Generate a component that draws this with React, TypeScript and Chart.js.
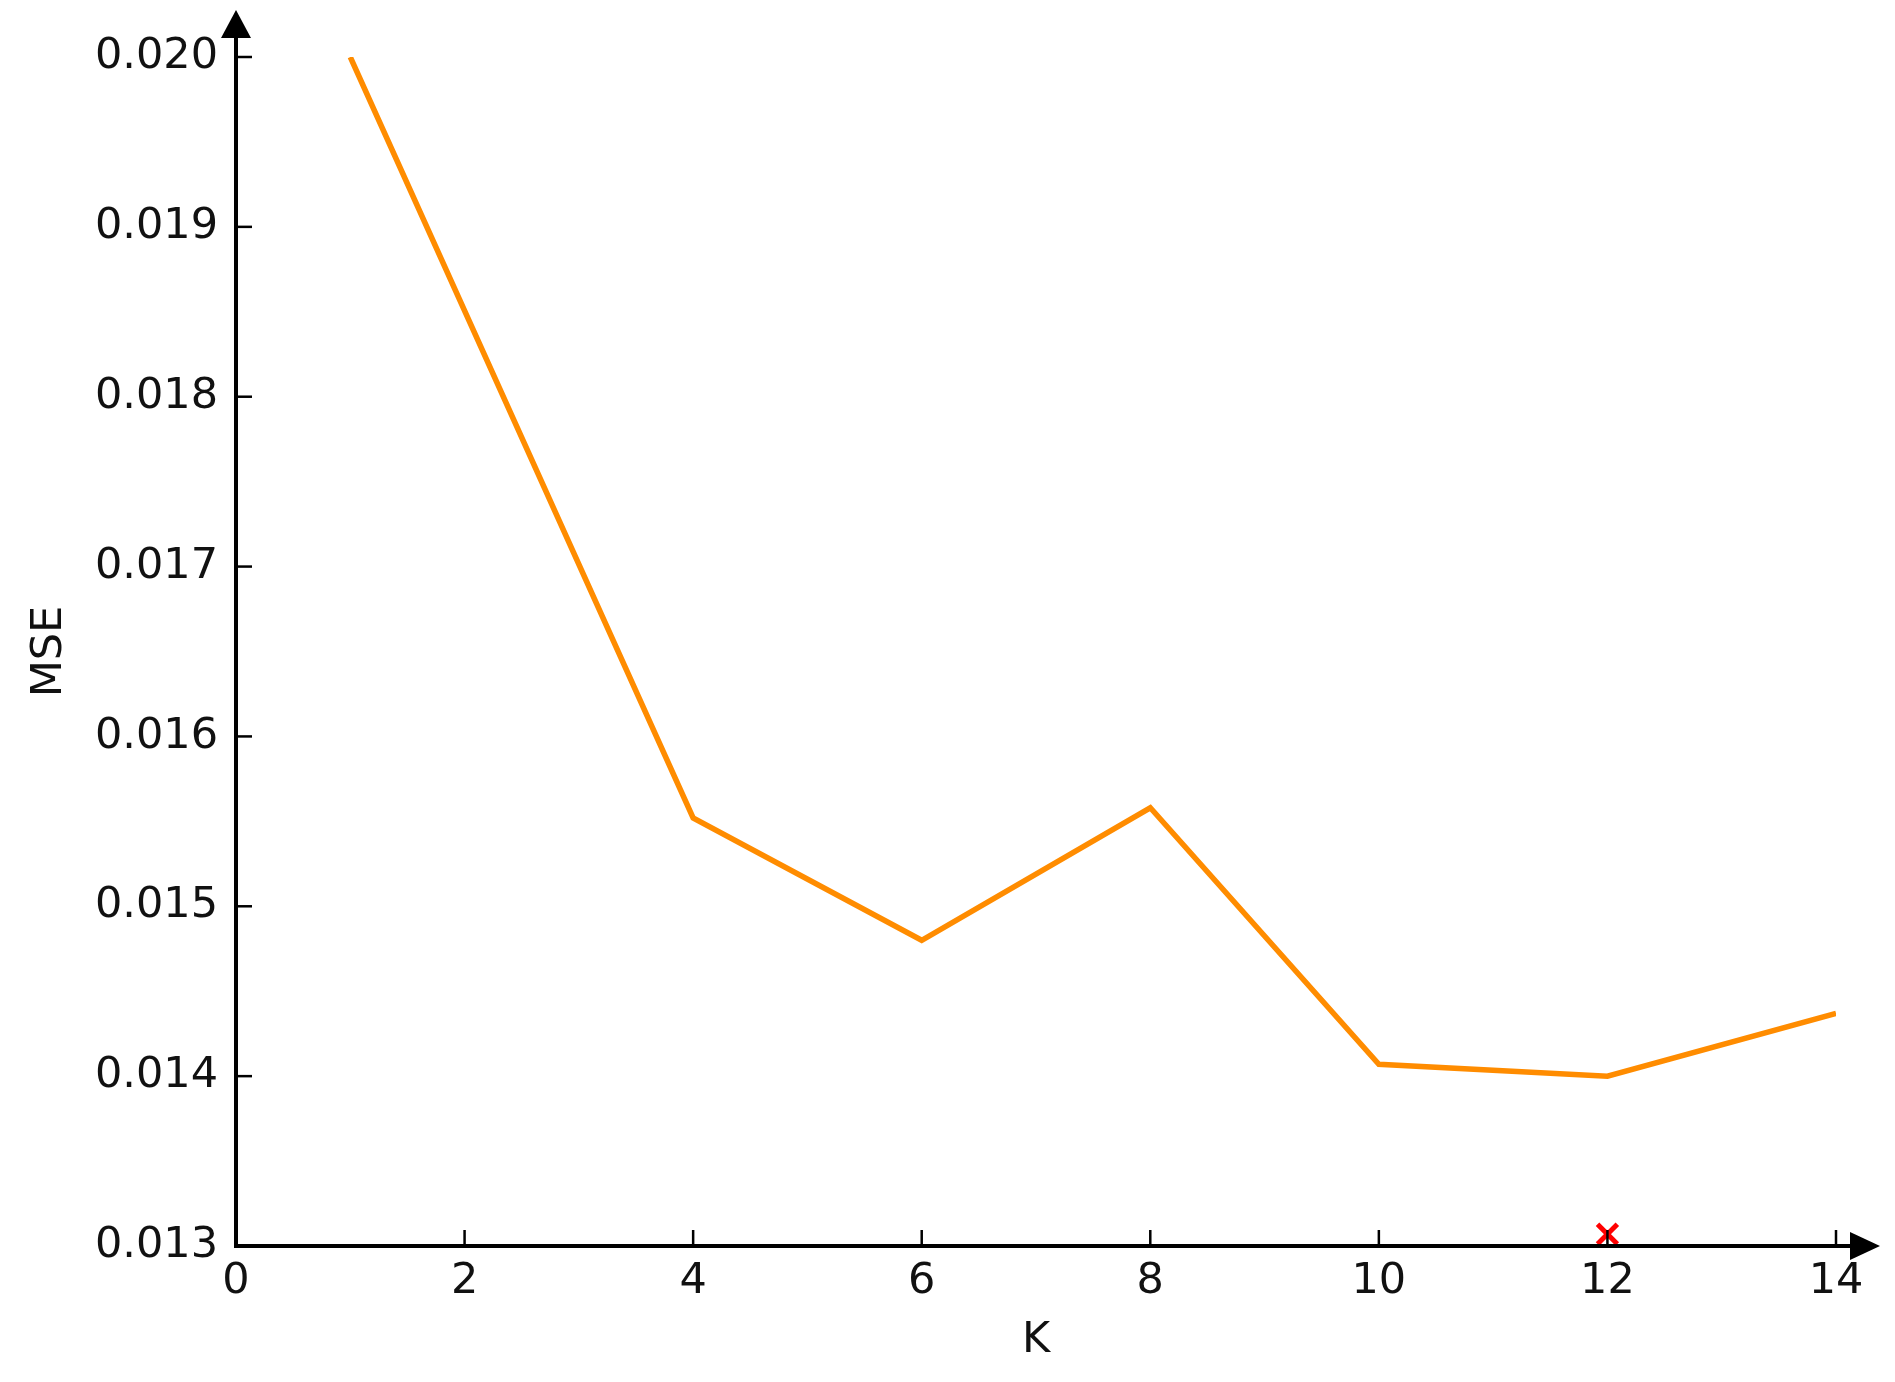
import React, { useEffect, useRef } from "react";
import { Chart, registerables } from "chart.js";

Chart.register(...registerables);

const kValues = [1, 4, 6, 8, 10, 12, 14];
const mseValues = [0.0200, 0.01552, 0.01480, 0.01558, 0.01407, 0.01400, 0.01437];
const bestK = [12];
const bestMarkerMse = [0.01307];
const xTicks = [0, 2, 4, 6, 8, 10, 12, 14];
const yTicks = [0.013, 0.014, 0.015, 0.016, 0.017, 0.018, 0.019, 0.020];

const FONT = "DejaVu Sans";
const FONT_SIZE = 43;

const axesPlugin = {
  id: "arrowAxes",
  afterDraw(chart: any) {
    const { ctx, chartArea, scales } = chart;
    const x0 = chartArea.left;
    const y0 = chartArea.bottom;
    ctx.save();
    ctx.strokeStyle = "#000";
    ctx.fillStyle = "#000";
    ctx.lineWidth = 4;
    // y axis
    const yTop = chartArea.top - 19;
    ctx.beginPath();
    ctx.moveTo(x0, y0 + 2);
    ctx.lineTo(x0, yTop);
    ctx.stroke();
    ctx.beginPath();
    ctx.moveTo(x0, yTop - 28);
    ctx.lineTo(x0 - 15, yTop);
    ctx.lineTo(x0 + 15, yTop);
    ctx.closePath();
    ctx.fill();
    // x axis
    const xEnd = chartArea.right + 14;
    ctx.beginPath();
    ctx.moveTo(x0 - 2, y0);
    ctx.lineTo(xEnd, y0);
    ctx.stroke();
    ctx.beginPath();
    ctx.moveTo(xEnd + 30, y0);
    ctx.lineTo(xEnd, y0 - 14);
    ctx.lineTo(xEnd, y0 + 14);
    ctx.closePath();
    ctx.fill();
    // ticks (inward)
    ctx.lineWidth = 2.5;
    const tl = 16;
    for (const t of xTicks) {
      const px = scales.x.getPixelForValue(t);
      ctx.beginPath();
      ctx.moveTo(px, y0);
      ctx.lineTo(px, y0 - tl);
      ctx.stroke();
    }
    for (const t of yTicks) {
      const py = scales.y.getPixelForValue(t);
      ctx.beginPath();
      ctx.moveTo(x0, py);
      ctx.lineTo(x0 + tl, py);
      ctx.stroke();
    }
    ctx.restore();
  },
};

export default function App() {
  const ref = useRef<HTMLCanvasElement>(null);
  useEffect(() => {
    const canvas = ref.current!;
    const chart = new Chart(canvas, {
      type: "line",
      data: {
        datasets: [
          {
            label: "MSE",
            data: kValues.map((k, i) => ({ x: k, y: mseValues[i] })),
            borderColor: "#FF8C00",
            borderWidth: 5.5,
            pointRadius: 0,
            fill: false,
            tension: 0,
          },
          {
            label: "best",
            data: bestK.map((k, i) => ({ x: k, y: bestMarkerMse[i] })),
            showLine: false,
            pointStyle: "crossRot",
            pointRadius: 14,
            borderColor: "#FF0000",
            backgroundColor: "#FF0000",
            pointBorderWidth: 5,
          } as any,
        ],
      },
      plugins: [axesPlugin],
      options: {
        animation: false,
        responsive: false,
        maintainAspectRatio: false,
        events: [],
        layout: { padding: { left: 0, top: 57, right: 59, bottom: 0 } },
        plugins: {
          legend: { display: false },
          tooltip: { enabled: false },
        },
        scales: {
          x: {
            type: "linear",
            min: 0,
            max: 14,
            grid: { display: false, drawTicks: false },
            border: { display: false },
            afterBuildTicks: (s: any) => {
              s.ticks = xTicks.map((v) => ({ value: v }));
            },
            ticks: {
              font: { family: FONT, size: FONT_SIZE },
              color: "#111",
              padding: 10,
              maxRotation: 0,
              callback: (v: any) => String(v),
            },
            title: {
              display: true,
              text: "K",
              font: { family: FONT, size: FONT_SIZE },
              color: "#111",
              padding: { top: 0, bottom: 15 },
            },
            afterFit: (s: any) => {
              s.height = 136;
            },
          },
          y: {
            type: "linear",
            min: 0.013,
            max: 0.02,
            grid: { display: false, drawTicks: false },
            border: { display: false },
            afterBuildTicks: (s: any) => {
              s.ticks = yTicks.map((v) => ({ value: v }));
            },
            ticks: {
              font: { family: FONT, size: FONT_SIZE },
              color: "#111",
              padding: 18,
              callback: (v: any) => Number(v).toFixed(3),
            },
            title: {
              display: true,
              text: "MSE",
              font: { family: FONT, size: FONT_SIZE },
              color: "#111",
              padding: { top: 24, bottom: 0 },
            },
            afterFit: (s: any) => {
              s.width = 236;
            },
          },
        },
      },
    });
    return () => chart.destroy();
  }, []);
  return (
    <div style={{ position: "fixed", left: 0, top: 0, width: 1895, height: 1382, background: "#fff" }}>
      <canvas ref={ref} width={1895} height={1382} style={{ width: 1895, height: 1382, display: "block" }} />
    </div>
  );
}
